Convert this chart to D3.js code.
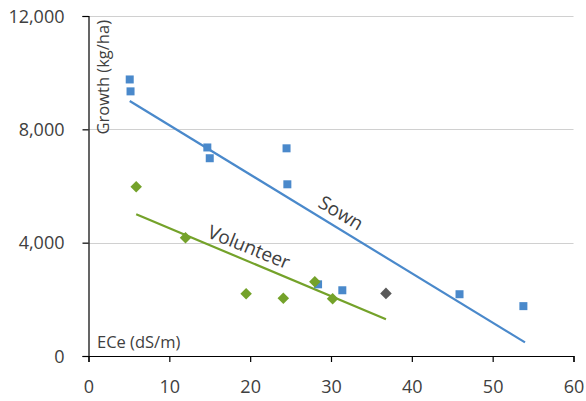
<!DOCTYPE html>
<html>
<head>
<meta charset="utf-8">
<script src="https://cdn.jsdelivr.net/npm/d3@7"></script>
<style>
  body { margin: 0; background: #fff; }
  svg text { font-family: "Open Sans", "Noto Sans", sans-serif; fill: #404040; }
</style>
</head>
<body>
<svg id="chart" width="586" height="401"></svg>
<script>
// sown points [ECe, growth]
const sownPoints = [
  [5.1, 9760], [5.2, 9340], [14.7, 7360], [15.0, 6980],
  [24.5, 7330], [24.6, 6060], [28.4, 2530], [31.4, 2320],
  [45.9, 2180], [53.8, 1760]
];
const volunteerPoints = [
  [5.9, 5970], [12.0, 4170], [19.5, 2200], [24.1, 2040],
  [28.0, 2620], [30.2, 2020]
];
const otherPoints = [[36.8, 2210]];

// fitted trend lines (end points)
const sownTrend = [[5.1, 9000], [54.0, 480]];
const volunteerTrend = [[5.9, 5000], [36.8, 1300]];

const xTicks = [0, 10, 20, 30, 40, 50, 60];
const yTicks = [0, 4000, 8000, 12000];

const blue = "#4a89cb";
const green = "#74a22a";
const grey = "#5a5a5a";

const svg = d3.select("#chart");
const x = d3.scaleLinear().domain([0, 60]).range([88.5, 573.5]);
const y = d3.scaleLinear().domain([0, 12000]).range([356, 16]);

// gridlines
svg.append("g")
  .selectAll("line")
  .data(yTicks.filter(d => d > 0))
  .enter()
  .append("line")
  .attr("x1", x(0))
  .attr("x2", x(60))
  .attr("y1", d => Math.round(y(d)) + 0.5)
  .attr("y2", d => Math.round(y(d)) + 0.5)
  .attr("stroke", "#d0d0d0")
  .attr("stroke-width", 1.2);

// axes
const xAxis = svg.append("g")
  .attr("transform", `translate(0,${y(0)})`)
  .call(d3.axisBottom(x).tickValues(xTicks).tickSize(6).tickPadding(18).tickFormat(d3.format("d")));
const yAxis = svg.append("g")
  .attr("transform", `translate(${x(0)},0)`)
  .call(d3.axisLeft(y).tickValues(yTicks).tickSize(6).tickPadding(18).tickFormat(d3.format(",")));

[xAxis, yAxis].forEach(a => {
  a.select(".domain").attr("stroke", "#000").attr("stroke-width", 1.2);
  a.selectAll(".tick line").attr("stroke", "#000").attr("stroke-width", 1.2);
  a.selectAll("text").style("font-size", "18px").attr("fill", "#404040");
});
yAxis.selectAll("text").attr("dy", "0.35em");

// axis titles
svg.append("text")
  .attr("transform", `translate(109,20) rotate(-90)`)
  .attr("text-anchor", "end")
  .style("font-size", "16.5px")
  .text("Growth (kg/ha)");

svg.append("text")
  .attr("x", 97)
  .attr("y", 348)
  .style("font-size", "16.5px")
  .text("ECe (dS/m)");

// trend lines
const line = d3.line().x(d => x(d[0])).y(d => y(d[1]));
svg.append("path")
  .datum(sownTrend)
  .attr("d", line)
  .attr("fill", "none")
  .attr("stroke", blue)
  .attr("stroke-width", 2.2);
svg.append("path")
  .datum(volunteerTrend)
  .attr("d", line)
  .attr("fill", "none")
  .attr("stroke", green)
  .attr("stroke-width", 2.2);

// markers
svg.append("g")
  .selectAll("rect")
  .data(sownPoints)
  .enter()
  .append("rect")
  .attr("x", d => x(d[0]) - 4)
  .attr("y", d => y(d[1]) - 4)
  .attr("width", 8)
  .attr("height", 8)
  .attr("fill", blue);

const diamond = d3.symbol().type(d3.symbolDiamond2).size(85);
svg.append("g")
  .selectAll("path")
  .data(volunteerPoints)
  .enter()
  .append("path")
  .attr("d", diamond)
  .attr("transform", d => `translate(${x(d[0])},${y(d[1])})`)
  .attr("fill", green);

svg.append("g")
  .selectAll("path")
  .data(otherPoints)
  .enter()
  .append("path")
  .attr("d", diamond)
  .attr("transform", d => `translate(${x(d[0])},${y(d[1])})`)
  .attr("fill", grey);

// line labels
svg.append("text")
  .attr("transform", "translate(341,213) rotate(31)")
  .attr("text-anchor", "middle")
  .attr("dy", "0.35em")
  .style("font-size", "19px")
  .text("Sown");

svg.append("text")
  .attr("transform", "translate(249,247) rotate(22)")
  .attr("text-anchor", "middle")
  .attr("dy", "0.35em")
  .style("font-size", "19px")
  .text("Volunteer");
</script>
</body>
</html>
